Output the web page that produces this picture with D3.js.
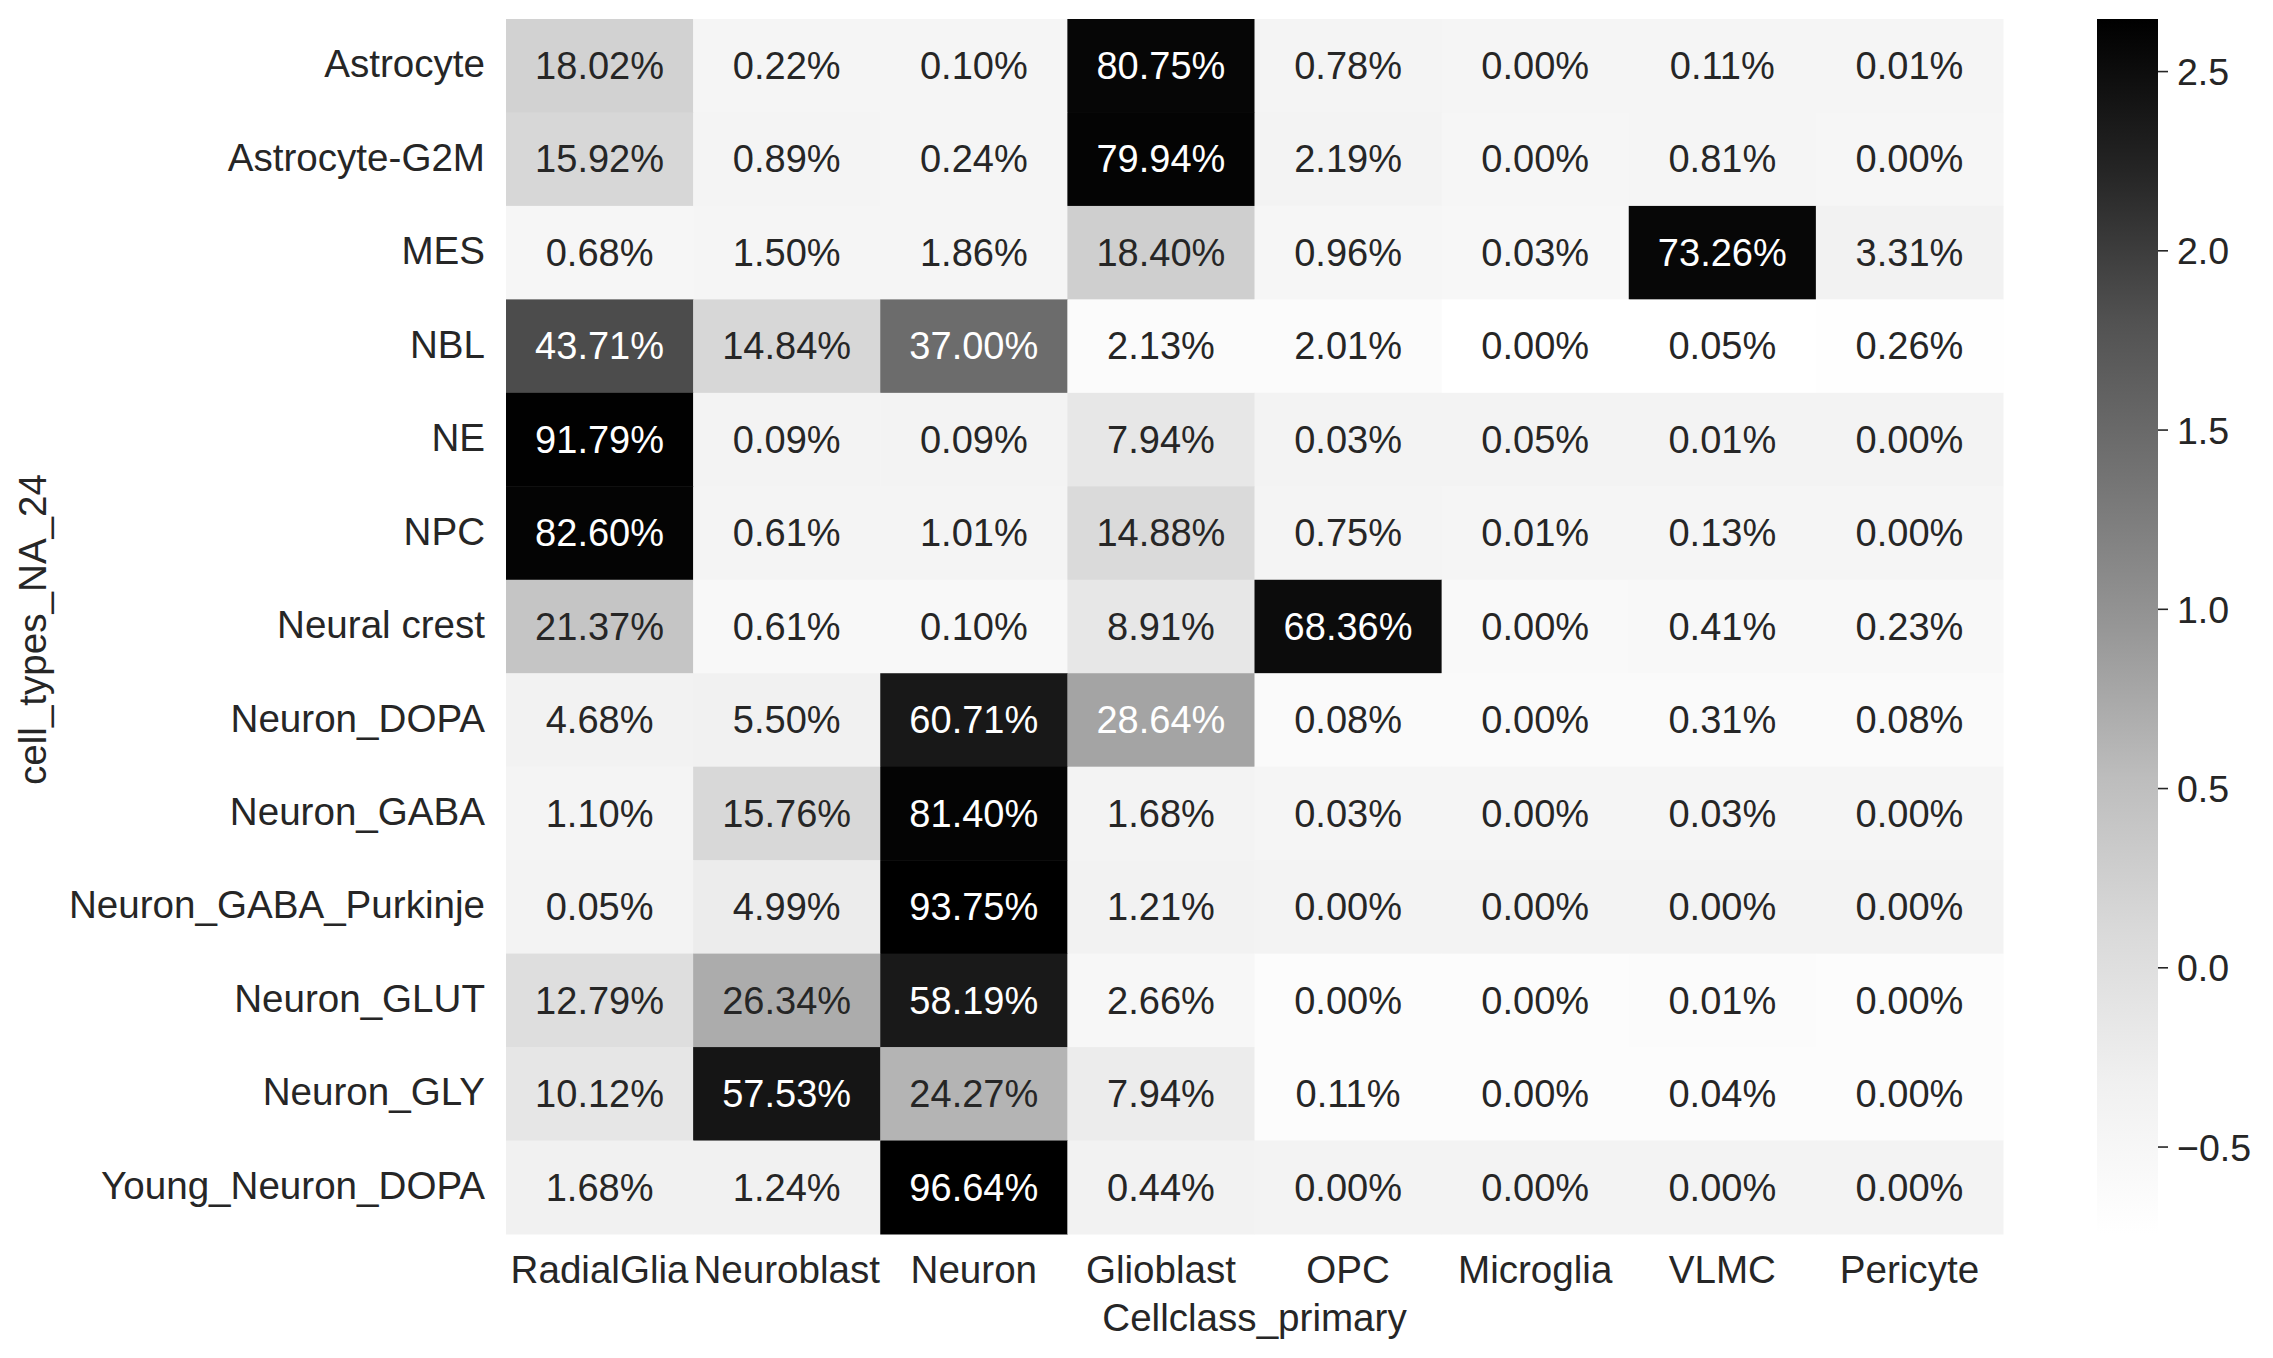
<!DOCTYPE html>
<html>
<head>
<meta charset="utf-8">
<script src="https://cdn.jsdelivr.net/npm/d3@7"></script>
<style>
  body { margin: 0; background: #fff; }
  text { font-family: "Liberation Sans", Arial, sans-serif; }
</style>
</head>
<body>
<script>
"use strict";

// row / column categories
var cellTypes = ["Astrocyte", "Astrocyte-G2M", "MES", "NBL", "NE", "NPC", "Neural crest",
  "Neuron_DOPA", "Neuron_GABA", "Neuron_GABA_Purkinje", "Neuron_GLUT", "Neuron_GLY",
  "Young_Neuron_DOPA"];
var cellClasses = ["RadialGlia", "Neuroblast", "Neuron", "Glioblast", "OPC", "Microglia", "VLMC", "Pericyte"];

// percentages per cell type (one value per cell class)
var astrocyte        = [18.02, 0.22, 0.10, 80.75, 0.78, 0.00, 0.11, 0.01];
var astrocyteG2M     = [15.92, 0.89, 0.24, 79.94, 2.19, 0.00, 0.81, 0.00];
var mes              = [0.68, 1.50, 1.86, 18.40, 0.96, 0.03, 73.26, 3.31];
var nbl              = [43.71, 14.84, 37.00, 2.13, 2.01, 0.00, 0.05, 0.26];
var ne               = [91.79, 0.09, 0.09, 7.94, 0.03, 0.05, 0.01, 0.00];
var npc              = [82.60, 0.61, 1.01, 14.88, 0.75, 0.01, 0.13, 0.00];
var neuralCrest      = [21.37, 0.61, 0.10, 8.91, 68.36, 0.00, 0.41, 0.23];
var neuronDopa       = [4.68, 5.50, 60.71, 28.64, 0.08, 0.00, 0.31, 0.08];
var neuronGaba       = [1.10, 15.76, 81.40, 1.68, 0.03, 0.00, 0.03, 0.00];
var neuronPurkinje   = [0.05, 4.99, 93.75, 1.21, 0.00, 0.00, 0.00, 0.00];
var neuronGlut       = [12.79, 26.34, 58.19, 2.66, 0.00, 0.00, 0.01, 0.00];
var neuronGly        = [10.12, 57.53, 24.27, 7.94, 0.11, 0.00, 0.04, 0.00];
var youngNeuronDopa  = [1.68, 1.24, 96.64, 0.44, 0.00, 0.00, 0.00, 0.00];

var colorbarTicks = [-0.5, 0.0, 0.5, 1.0, 1.5, 2.0, 2.5];

// matplotlib "Greys" anchors
var greys = ["#ffffff", "#f0f0f0", "#d9d9d9", "#bdbdbd", "#969696", "#737373", "#525252", "#252525", "#000000"];

var rowValues = [astrocyte, astrocyteG2M, mes, nbl, ne, npc, neuralCrest, neuronDopa,
  neuronGaba, neuronPurkinje, neuronGlut, neuronGly, youngNeuronDopa];

// colour is the row-wise z-score of the percentages
function zscore(row) {
  var m = d3.mean(row);
  var sd = Math.sqrt(d3.mean(row, function(v) { return (v - m) * (v - m); }));
  return row.map(function(v) { return (v - m) / sd; });
}

function luminance(c) {
  var rgb = d3.rgb(c);
  var lin = [rgb.r, rgb.g, rgb.b].map(function(v) {
    v = v / 255;
    return v <= 0.03928 ? v / 12.92 : Math.pow((v + 0.055) / 1.055, 2.4);
  });
  return 0.2126 * lin[0] + 0.7152 * lin[1] + 0.0722 * lin[2];
}

window.onload = function() {
  var width = 2273, height = 1358;
  var left = 506, right = 2003, top = 19, bottom = 1234;
  var fs = 38;       // annotations
  var labelFs = 38.6; // tick labels

  var cells = [];
  rowValues.forEach(function(row, i) {
    var z = zscore(row);
    row.forEach(function(v, j) {
      cells.push({ row: cellTypes[i], col: cellClasses[j], pct: v, z: z[j] });
    });
  });

  var zExt = d3.extent(cells, function(d) { return d.z; });

  var x = d3.scaleBand().domain(cellClasses).range([left, right]);
  var y = d3.scaleBand().domain(cellTypes).range([top, bottom]);
  var color = d3.scaleLinear()
      .domain(greys.map(function(c, i) { return zExt[0] + (zExt[1] - zExt[0]) * i / (greys.length - 1); }))
      .range(greys)
      .clamp(true);

  var svg = d3.select("body")
      .append("svg")
      .attr("width", width)
      .attr("height", height);

  svg.append("rect").attr("width", width).attr("height", height).attr("fill", "#fff");

  // cells
  svg.append("g")
    .selectAll("rect")
    .data(cells)
    .join("rect")
      .attr("x", function(d) { return x(d.col); })
      .attr("y", function(d) { return y(d.row); })
      .attr("width", x.bandwidth() + 0.5)
      .attr("height", y.bandwidth() + 0.5)
      .attr("fill", function(d) { return color(d.z); });

  // annotations
  svg.append("g")
    .selectAll("text")
    .data(cells)
    .join("text")
      .attr("x", function(d) { return x(d.col) + x.bandwidth() / 2; })
      .attr("y", function(d) { return y(d.row) + y.bandwidth() / 2; })
      .attr("dy", "0.35em")
      .attr("text-anchor", "middle")
      .style("font-size", fs + "px")
      .attr("fill", function(d) { return luminance(color(d.z)) > 0.408 ? "#262626" : "#ffffff"; })
      .text(function(d) { return d.pct.toFixed(2) + "%"; });

  // row labels
  svg.append("g")
    .selectAll("text")
    .data(cellTypes)
    .join("text")
      .attr("x", left - 21)
      .attr("y", function(d) { return y(d) + y.bandwidth() / 2; })
      .attr("dy", "0.3em")
      .attr("text-anchor", "end")
      .attr("fill", "#262626")
      .style("font-size", labelFs + "px")
      .text(function(d) { return d; });

  // column labels
  svg.append("g")
    .selectAll("text")
    .data(cellClasses)
    .join("text")
      .attr("x", function(d) { return x(d) + x.bandwidth() / 2; })
      .attr("y", 1283)
      .attr("text-anchor", "middle")
      .attr("fill", "#262626")
      .style("font-size", labelFs + "px")
      .text(function(d) { return d; });

  // axis titles
  svg.append("text")
      .attr("x", (left + right) / 2)
      .attr("y", 1331)
      .attr("text-anchor", "middle")
      .attr("fill", "#262626")
      .style("font-size", labelFs + "px")
      .text("Cellclass_primary");

  svg.append("text")
      .attr("transform", "translate(46," + ((top + bottom) / 2 + 3) + ") rotate(-90)")
      .attr("text-anchor", "middle")
      .attr("fill", "#262626")
      .style("font-size", labelFs + "px")
      .text("cell_types_NA_24");

  // colorbar
  var cbLeft = 2097, cbWidth = 61;
  var cbScale = d3.scaleLinear().domain(zExt).range([bottom, top]);

  var grad = svg.append("defs").append("linearGradient")
      .attr("id", "cbgrad")
      .attr("x1", 0).attr("y1", 1).attr("x2", 0).attr("y2", 0);
  grad.selectAll("stop")
    .data(greys)
    .join("stop")
      .attr("offset", function(d, i) { return i / (greys.length - 1); })
      .attr("stop-color", function(d) { return d; });

  svg.append("rect")
      .attr("x", cbLeft)
      .attr("y", top)
      .attr("width", cbWidth)
      .attr("height", bottom - top)
      .attr("fill", "url(#cbgrad)");

  var cbAxis = svg.append("g")
      .attr("transform", "translate(" + (cbLeft + cbWidth) + ",0)")
      .call(d3.axisRight(cbScale)
        .tickValues(colorbarTicks)
        .tickFormat(d3.format(".1f"))
        .tickSize(10)
        .tickPadding(9));
  cbAxis.select(".domain").remove();
  cbAxis.selectAll(".tick line").attr("stroke", "#262626").attr("stroke-width", 1.6);
  cbAxis.selectAll(".tick text")
      .attr("fill", "#262626")
      .attr("dy", "0.36em")
      .style("font-size", "37.5px")
      .style("font-family", "'Liberation Sans', Arial, sans-serif");
};
</script>
</body>
</html>
